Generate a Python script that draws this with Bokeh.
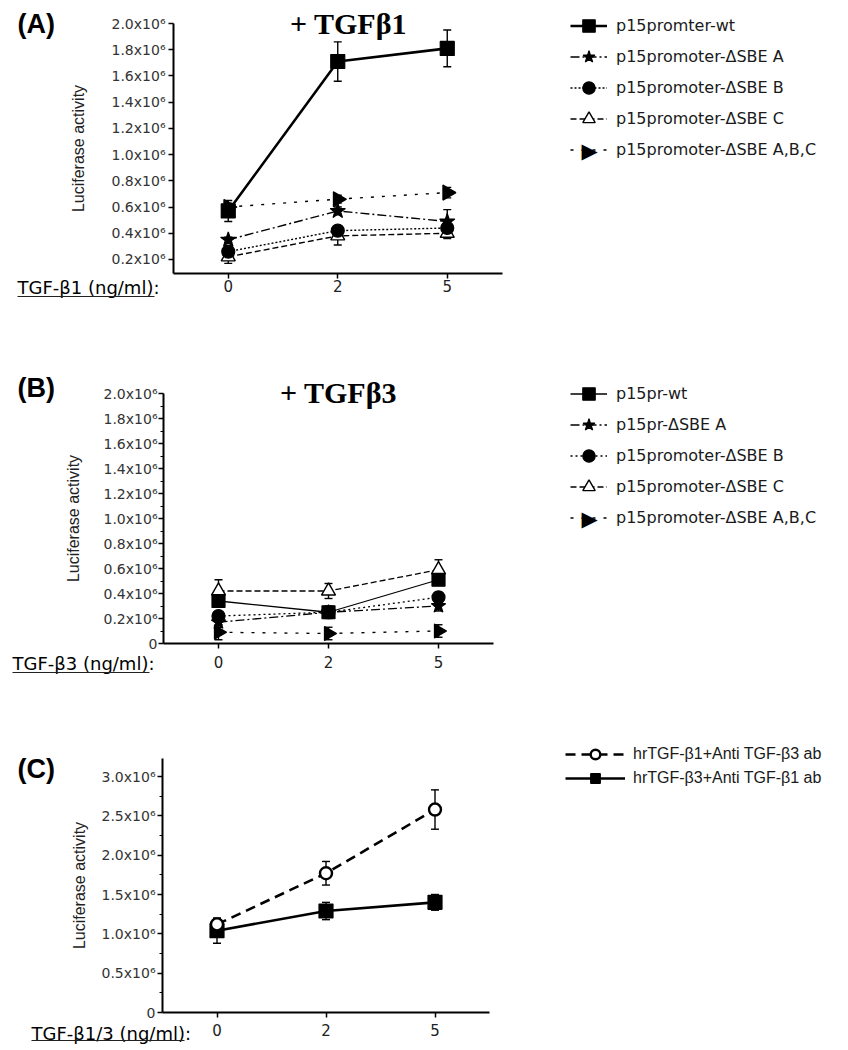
import math
from bokeh.plotting import figure
from bokeh.models import (ColumnDataSource, Range1d, FixedTicker, LinearAxis,
                          Label, Legend, LegendItem, Whisker, TeeHead, Arrow)
from bokeh.layouts import column
from bokeh.embed import file_html
from bokeh.resources import INLINE

# ---------------- data (luciferase activity in units of 10^6) ----------------
doses = ["0", "2", "5"]

# Panel A: + TGF-beta1
a_names = ["p15promter-wt", "p15promoter-ΔSBE A", "p15promoter-ΔSBE B",
           "p15promoter-ΔSBE C", "p15promoter-ΔSBE A,B,C"]
a_wt = [0.57, 1.71, 1.81]
a_wt_err = [0.08, 0.15, 0.14]
a_sbe_a = [0.35, 0.57, 0.49]
a_sbe_a_err = [0.02, 0.03, 0.09]
a_sbe_b = [0.26, 0.42, 0.44]
a_sbe_b_err = [0.03, 0.03, 0.04]
a_sbe_c = [0.22, 0.38, 0.40]
a_sbe_c_err = [0.05, 0.07, 0.04]
a_sbe_abc = [0.60, 0.66, 0.71]
a_sbe_abc_err = [0.03, 0.03, 0.04]
a_yticks = [0.2, 0.4, 0.6, 0.8, 1.0, 1.2, 1.4, 1.6, 1.8, 2.0]
a_ylabels = ["0.2x10⁶", "0.4x10⁶", "0.6x10⁶", "0.8x10⁶", "1.0x10⁶",
             "1.2x10⁶", "1.4x10⁶", "1.6x10⁶", "1.8x10⁶", "2.0x10⁶"]

# Panel B: + TGF-beta3
b_names = ["p15pr-wt", "p15pr-ΔSBE A", "p15promoter-ΔSBE B",
           "p15promoter-ΔSBE C", "p15promoter-ΔSBE A,B,C"]
b_wt = [0.34, 0.25, 0.51]
b_wt_err = [0.03, 0.04, 0.04]
b_sbe_a = [0.17, 0.25, 0.30]
b_sbe_a_err = [0.04, 0.04, 0.04]
b_sbe_b = [0.22, 0.25, 0.37]
b_sbe_b_err = [0.03, 0.05, 0.04]
b_sbe_c = [0.42, 0.42, 0.59]
b_sbe_c_err = [0.09, 0.06, 0.08]
b_sbe_abc = [0.09, 0.08, 0.10]
b_sbe_abc_err = [0.06, 0.05, 0.05]
b_yticks = [0, 0.2, 0.4, 0.6, 0.8, 1.0, 1.2, 1.4, 1.6, 1.8, 2.0]
b_yminor = [0.1, 0.3, 0.5, 0.7, 0.9, 1.1, 1.3, 1.5, 1.7, 1.9]
b_ylabels = ["0", "0.2x10⁶", "0.4x10⁶", "0.6x10⁶", "0.8x10⁶", "1.0x10⁶",
             "1.2x10⁶", "1.4x10⁶", "1.6x10⁶", "1.8x10⁶", "2.0x10⁶"]

# Panel C: neutralising antibodies
c_names = ["hrTGF-β1+Anti TGF-β3 ab", "hrTGF-β3+Anti TGF-β1 ab"]
c_b1_anti_b3 = [1.12, 1.77, 2.58]
c_b1_anti_b3_err = [0.08, 0.15, 0.25]
c_b3_anti_b1 = [1.04, 1.29, 1.40]
c_b3_anti_b1_err = [0.16, 0.11, 0.10]
c_yticks = [0, 0.5, 1.0, 1.5, 2.0, 2.5, 3.0]
c_yminor = [0.25, 0.75, 1.25, 1.75, 2.25, 2.75]
c_ylabels = ["0", "0.5x10⁶", "1.0x10⁶", "1.5x10⁶", "2.0x10⁶", "2.5x10⁶", "3.0x10⁶"]

# category positions on the numeric x scale
xpos = [doses.index(d) for d in doses]

# ---------------- helpers ----------------
PAGE_L, PAGE_R = 0, 848
SANS = "DejaVu Sans"
ARIAL = "Liberation Sans"


class Panel:
    def __init__(self, fig_top, fig_bottom, axis_x_page, sx, yv0, yp0, yv1, yp1,
                 y_axis_top, yticks, ylabels, yminor, x_standoff, ylab_standoff,
                 ytick_standoff):
        self.top, self.bottom = fig_top, fig_bottom
        sy = (yp0 - yp1) / (yv1 - yv0)
        x0 = -0.5 - (axis_x_page - PAGE_L) / sx
        x1 = -0.5 + (PAGE_R - axis_x_page) / sx
        y0 = yv0 - (fig_bottom - yp0) / sy
        y1 = yv0 + (yp0 - fig_top) / sy
        p = figure(width=PAGE_R - PAGE_L, height=fig_bottom - fig_top,
                   x_range=Range1d(x0, x1), y_range=Range1d(y0, y1),
                   min_border=0, min_border_left=0, min_border_right=0,
                   min_border_top=0, min_border_bottom=0,
                   x_axis_location=None, y_axis_location=None,
                   output_backend="svg", toolbar_location=None,
                   outline_line_color=None, background_fill_color="white",
                   border_fill_color="white")
        p.xgrid.visible = False
        p.ygrid.visible = False
        ya = LinearAxis(fixed_location=-0.5, bounds=(yv0, y_axis_top),
                        ticker=FixedTicker(ticks=yticks, minor_ticks=yminor),
                        major_label_overrides=dict(zip(yticks, ylabels)))
        ya.axis_line_width = 2
        ya.major_tick_out = 5
        ya.major_tick_in = 0
        ya.major_tick_line_width = 1.5
        ya.minor_tick_out = 3
        ya.minor_tick_in = 0
        ya.major_label_text_font = SANS
        ya.major_label_text_font_size = "14px"
        ya.major_label_text_color = "#333333"
        ya.major_label_standoff = ytick_standoff
        ya.axis_label = "Luciferase activity"
        ya.axis_label_text_font = ARIAL
        ya.axis_label_text_font_size = "16px"
        ya.axis_label_text_font_style = "normal"
        ya.axis_label_text_color = "#222222"
        ya.axis_label_standoff = ylab_standoff
        p.add_layout(ya, "left")
        xa = LinearAxis(fixed_location=yv0, bounds=(-0.5, 2.5),
                        ticker=FixedTicker(ticks=xpos),
                        major_label_overrides=dict(zip(xpos, doses)))
        xa.axis_line_width = 2
        xa.major_tick_out = 5
        xa.major_tick_in = 0
        xa.major_tick_line_width = 1.5
        xa.minor_tick_out = 0
        xa.major_label_text_font = SANS
        xa.major_label_text_font_size = "15px"
        xa.major_label_text_color = "#222222"
        xa.major_label_standoff = x_standoff
        p.add_layout(xa, "below")
        self.p = p

    def X(self, px):
        return px - PAGE_L

    def Y(self, py):
        return self.bottom - py

    def series(self, vals, errs, marker, size, dash, lw, fill, mlw=1.2, angle=0.0):
        src = ColumnDataSource(dict(x=xpos, y=vals,
                                    upper=[v + e for v, e in zip(vals, errs)],
                                    lower=[v - e for v, e in zip(vals, errs)]))
        r_line = self.p.line("x", "y", source=src, line_color="black",
                             line_width=lw, line_dash=dash)
        w = Whisker(source=src, base="x", upper="upper", lower="lower",
                    line_color="black", line_width=1.4,
                    upper_head=TeeHead(size=8, line_width=1.4, line_color="black"),
                    lower_head=TeeHead(size=8, line_width=1.4, line_color="black"))
        self.p.add_layout(w)
        r_mark = self.p.scatter("x", "y", source=src, marker=marker, size=size,
                                fill_color=fill, line_color="black",
                                line_width=mlw, angle=angle)
        return [r_line, r_mark]

    def legend(self, names, rlist, left_page, top_page, item_h, glyph_w,
               standoff, font, size):
        n = len(names)
        h = n * item_h
        items = [LegendItem(label=nm, renderers=r) for nm, r in zip(names, rlist)]
        leg = Legend(items=items,
                     location=(self.X(left_page), self.Y(top_page + h)),
                     glyph_width=glyph_w, glyph_height=item_h, label_height=item_h,
                     spacing=0, label_standoff=standoff, padding=0, margin=0,
                     border_line_color=None, background_fill_alpha=0,
                     label_text_font=font, label_text_font_size=size,
                     label_text_color="#1a1a1a")
        self.p.add_layout(leg)

    def text(self, px, py, txt, font, size, style="normal", align="left"):
        self.p.add_layout(Label(x=self.X(px), y=self.Y(py), x_units="screen",
                                y_units="screen", text=txt, text_font=font,
                                text_font_size=size, text_font_style=style,
                                text_align=align, text_baseline="middle",
                                text_color="black"))

    def underline(self, px0, px1, py):
        self.p.add_layout(Arrow(x_start=self.X(px0), y_start=self.Y(py),
                                x_end=self.X(px1), y_end=self.Y(py),
                                start_units="screen", end_units="screen",
                                start=None, end=None, line_width=1.2,
                                line_color="#222222"))


RIGHT = -math.pi / 2
ARROW_MARK = "▶"

# ---------------- panel A ----------------
A = Panel(0, 335, 173, 109.5, 0.09, 273.4, 2.0, 23, 2.0,
          a_yticks, a_ylabels, [], x_standoff=1, ylab_standoff=22, ytick_standoff=3)
rA_abc = A.series(a_sbe_abc, a_sbe_abc_err, "triangle", 15, "3 8", 1.4, "black", angle=RIGHT)
rA_c = A.series(a_sbe_c, a_sbe_c_err, "triangle", 14, "6 3", 1.4, "white", mlw=1.4)
rA_b = A.series(a_sbe_b, a_sbe_b_err, "circle", 13, "2 2", 1.4, "black")
rA_a = A.series(a_sbe_a, a_sbe_a_err, "star", 16, "9 3 2 3", 1.4, "black")
rA_wt = A.series(a_wt, a_wt_err, "square", 14, "solid", 2.6, "black")
A.legend(a_names, [rA_wt, rA_a, rA_b, rA_c, rA_abc[:1]], 570, 10, 31, 37, 9, SANS, "16px")
A.text(589, 10 + 4 * 31 + 16, ARROW_MARK, SANS, "21px", "normal", "center")
A.text(17, 23, "(A)", ARIAL, "27px", "bold")
A.text(348, 23, "+ TGFβ1", "Liberation Serif", "30px", "bold", "center")
A.text(17, 287, "TGF-β1 (ng/ml):", SANS, "18px")
A.underline(17, 154, 296)

# ---------------- panel B ----------------
B = Panel(335, 700, 163, 110, 0.0, 643, 2.0, 393, 2.0,
          b_yticks, b_ylabels, b_yminor, x_standoff=7, ylab_standoff=19, ytick_standoff=1)
rB_abc = B.series(b_sbe_abc, b_sbe_abc_err, "triangle", 14, "3 8", 1.3, "black", angle=RIGHT)
rB_a = B.series(b_sbe_a, b_sbe_a_err, "star", 15, "9 3 2 3", 1.3, "black")
rB_b = B.series(b_sbe_b, b_sbe_b_err, "circle", 13, "2 3", 1.3, "black")
rB_c = B.series(b_sbe_c, b_sbe_c_err, "triangle", 14, "6 3", 1.3, "white", mlw=1.4)
rB_wt = B.series(b_wt, b_wt_err, "square", 13, "solid", 1.3, "black")
B.legend(b_names, [rB_wt, rB_a, rB_b, rB_c, rB_abc[:1]], 570, 378, 31, 37, 9, SANS, "16px")
B.text(589, 378 + 4 * 31 + 16, ARROW_MARK, SANS, "21px", "normal", "center")
B.text(17, 387, "(B)", ARIAL, "27px", "bold")
B.text(338, 392, "+ TGFβ3", "Liberation Serif", "30px", "bold", "center")
B.text(12, 663, "TGF-β3 (ng/ml):", SANS, "18px")
B.underline(12, 149, 672)

# ---------------- panel C ----------------
C = Panel(700, 1048, 162, 109, 0.0, 1012, 3.0, 776, 3.23,
          c_yticks, c_ylabels, c_yminor, x_standoff=6, ylab_standoff=11, ytick_standoff=2)
rC_3 = C.series(c_b3_anti_b1, c_b3_anti_b1_err, "square", 14, "solid", 2.6, "black")
rC_1 = C.series(c_b1_anti_b3, c_b1_anti_b3_err, "circle", 12, "10 6", 2.6, "white", mlw=2.4)
C.legend(c_names, [rC_1, rC_3], 565, 742, 24, 60, 8, ARIAL, "16px")
C.text(17, 768, "(C)", ARIAL, "27px", "bold")
C.text(31, 1033, "TGF-β1/3 (ng/ml):", SANS, "18px")
C.underline(31, 184, 1040)

layout = column(A.p, B.p, C.p, spacing=0)
open("out.html", "w").write(file_html(layout, INLINE))
